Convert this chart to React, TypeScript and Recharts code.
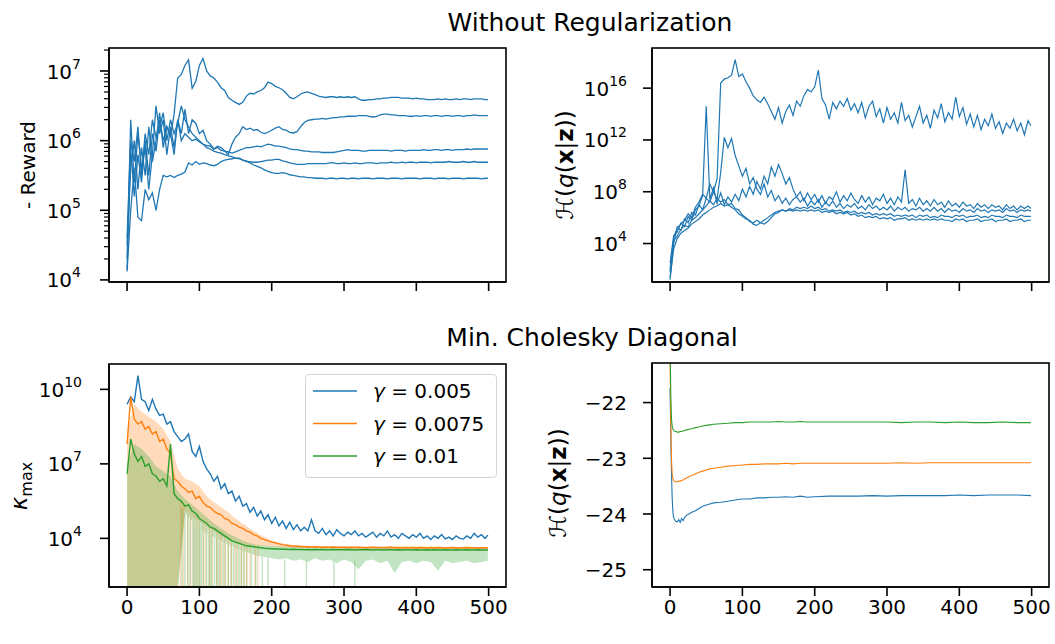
import { Area, ComposedChart, Legend, Line, XAxis, YAxis } from 'recharts'

const FONT = '"DejaVu Sans", sans-serif'
const BLUE = '#1f77b4'
const ORANGE = '#ff7f0e'
const GREEN = '#2ca02c'
const AXIS_LINE = { stroke: '#000', strokeWidth: 1.6 }

// logged iterations: every 5th step, plus the last one
const STEP_X = Array.from({ length: 101 }, (_, i) => (i === 100 ? 499 : i * 5))
// the shaded bands were read at a coarser step
const BAND_X = Array.from({ length: 51 }, (_, i) => (i === 50 ? 499 : i * 10))
const X_TICKS = [0, 100, 200, 300, 400, 500]
const X_DOMAIN: [number, number] = [-25, 524]

// ---- top left: - reward, five runs (log10 of the value) ----
const rewardRun1 = [
  4.15, 5.9, 5.2, 5.8, 5.4, 6.0, 5.5, 6.1, 5.85, 6.3,
  6.0, 6.2, 6.05, 6.38, 6.9, 6.95, 7.08, 7.16, 6.75, 6.85,
  7.08, 7.18, 7.0, 6.93, 6.9, 6.84, 6.76, 6.72, 6.62, 6.58,
  6.55, 6.52, 6.55, 6.64, 6.68, 6.67, 6.7, 6.72, 6.76, 6.84,
  6.82, 6.78, 6.76, 6.73, 6.68, 6.62, 6.6, 6.63, 6.67, 6.69,
  6.7, 6.68, 6.66, 6.64, 6.63, 6.62, 6.63, 6.63, 6.62, 6.63,
  6.62, 6.63, 6.62, 6.63, 6.6, 6.58, 6.58, 6.59, 6.59, 6.6,
  6.6, 6.61, 6.61, 6.62, 6.62, 6.62, 6.61, 6.61, 6.61, 6.6,
  6.61, 6.6, 6.6, 6.59, 6.59, 6.59, 6.6, 6.59, 6.6, 6.59,
  6.59, 6.6, 6.59, 6.6, 6.6, 6.59, 6.6, 6.6, 6.6, 6.59,
  6.59,
]
const rewardRun2 = [
  4.3, 6.3, 5.4, 6.1, 5.6, 5.9, 5.3, 5.8, 6.5, 6.1,
  6.3, 5.8, 6.2, 5.9, 6.3, 6.1, 6.45, 6.1, 6.3, 6.25,
  6.1, 6.15, 6.0, 5.95, 5.88, 5.92, 5.9, 5.85, 5.8, 5.95,
  6.05, 6.1, 6.2, 6.16, 6.18, 6.15, 6.16, 6.12, 6.1, 6.12,
  6.15, 6.18, 6.2, 6.16, 6.15, 6.12, 6.11, 6.13, 6.2, 6.26,
  6.29, 6.3, 6.31, 6.31, 6.32, 6.31, 6.32, 6.33, 6.33, 6.34,
  6.34, 6.35, 6.35, 6.35, 6.36, 6.36, 6.36, 6.35, 6.34, 6.35,
  6.37, 6.38, 6.38, 6.37, 6.37, 6.36, 6.36, 6.36, 6.35, 6.35,
  6.36, 6.35, 6.36, 6.36, 6.35, 6.36, 6.36, 6.35, 6.36, 6.36,
  6.35, 6.36, 6.36, 6.35, 6.36, 6.36, 6.37, 6.36, 6.36, 6.36,
  6.36,
]
const rewardRun3 = [
  4.5, 5.6, 6.0, 5.3, 5.9, 5.5, 6.2, 5.7, 6.0, 6.4,
  5.9, 6.2, 6.1, 5.8, 6.3, 6.0, 6.1, 6.05, 6.0, 6.02,
  5.98, 5.95, 5.93, 5.92, 5.88, 5.9, 5.86, 5.85, 5.84, 5.82,
  5.84, 5.86, 5.88, 5.9, 5.9, 5.91, 5.92, 5.91, 5.93, 5.95,
  5.94, 5.92, 5.92, 5.91, 5.9, 5.88, 5.87, 5.87, 5.86, 5.85,
  5.85, 5.84, 5.84, 5.84, 5.83, 5.83, 5.83, 5.83, 5.84, 5.85,
  5.86, 5.87, 5.86, 5.86, 5.86, 5.85, 5.85, 5.86, 5.86, 5.86,
  5.86, 5.86, 5.86, 5.85, 5.86, 5.86, 5.86, 5.85, 5.86, 5.86,
  5.86, 5.86, 5.87, 5.86, 5.86, 5.87, 5.87, 5.86, 5.87, 5.87,
  5.86, 5.87, 5.87, 5.87, 5.88, 5.87, 5.88, 5.88, 5.88, 5.88,
  5.88,
]
const rewardRun4 = [
  4.12, 5.0, 5.6, 4.9, 4.85, 5.3, 5.15, 5.25, 5.0, 5.3,
  5.5, 5.48, 5.5, 5.47, 5.5, 5.52, 5.55, 5.68, 5.65, 5.7,
  5.66, 5.68, 5.67, 5.65, 5.64, 5.66, 5.7, 5.72, 5.73, 5.74,
  5.75, 5.75, 5.72, 5.7, 5.7, 5.69, 5.69, 5.7, 5.71, 5.72,
  5.72, 5.73, 5.73, 5.71, 5.7, 5.68, 5.67, 5.66, 5.66, 5.66,
  5.67, 5.67, 5.67, 5.67, 5.67, 5.67, 5.68, 5.68, 5.67, 5.67,
  5.68, 5.67, 5.67, 5.68, 5.67, 5.67, 5.68, 5.68, 5.68, 5.67,
  5.68, 5.68, 5.68, 5.69, 5.68, 5.68, 5.69, 5.68, 5.69, 5.69,
  5.68, 5.69, 5.69, 5.69, 5.68, 5.69, 5.69, 5.69, 5.69, 5.7,
  5.69, 5.69, 5.69, 5.7, 5.69, 5.69, 5.7, 5.69, 5.69, 5.69,
  5.69,
]
const rewardRun5 = [
  4.6, 6.0, 5.7, 6.2, 5.5, 6.1, 5.8, 6.3, 6.05, 6.2,
  6.4, 6.0, 6.3, 6.1, 6.25, 6.5, 6.3, 6.2, 6.1, 6.05,
  6.0, 5.95, 5.9, 5.88, 5.85, 5.83, 5.82, 5.8, 5.78, 5.77,
  5.75, 5.74, 5.72, 5.71, 5.68, 5.65, 5.63, 5.61, 5.58, 5.56,
  5.54, 5.53, 5.53, 5.54, 5.53, 5.51, 5.5, 5.49, 5.48, 5.48,
  5.47, 5.47, 5.46, 5.46, 5.46, 5.45, 5.46, 5.46, 5.45, 5.46,
  5.46, 5.45, 5.46, 5.46, 5.45, 5.46, 5.46, 5.46, 5.45, 5.46,
  5.46, 5.46, 5.45, 5.46, 5.46, 5.46, 5.45, 5.46, 5.46, 5.46,
  5.46, 5.45, 5.46, 5.46, 5.46, 5.45, 5.46, 5.46, 5.46, 5.45,
  5.46, 5.46, 5.46, 5.45, 5.46, 5.46, 5.46, 5.46, 5.45, 5.46,
  5.46,
]

// ---- top right: entropy without regularization (log10) ----
const entropyRun1 = [
  2.0, 4.5, 5.2, 5.5, 5.8, 6.3, 6.0, 6.8, 7.2, 7.8,
  7.5, 8.6, 8.0, 9.0, 16.4, 16.7, 16.8, 17.0, 18.2, 16.9,
  17.1, 16.5, 16.0, 15.4, 15.1, 14.9, 15.3, 14.8, 14.2, 13.6,
  14.5, 13.3, 14.2, 14.7, 13.9, 15.0, 14.6, 15.4, 15.9, 15.7,
  16.1, 17.4, 15.2, 14.7, 13.6, 14.9, 14.4, 15.0, 14.6, 15.2,
  14.3, 14.8, 14.1, 14.9, 13.7, 14.6, 15.0, 13.8, 14.4, 13.3,
  14.5, 13.6, 14.1, 13.3, 14.9, 13.5, 13.9, 13.0, 13.8, 14.6,
  13.3, 13.9, 12.9, 14.3, 13.7, 14.8, 13.4, 14.1, 13.6, 15.3,
  13.8, 14.5, 13.2, 14.0, 13.0, 13.9, 12.8, 13.6, 13.1, 14.0,
  12.9, 13.4, 12.5, 13.3, 12.9, 13.6, 12.7, 13.3, 12.4, 13.5,
  13.1,
]
const entropyRun2 = [
  1.2, 4.0, 5.3, 5.0, 5.9, 5.6, 6.4, 6.2, 7.0, 6.6,
  7.5, 7.2, 8.0, 7.4, 9.5, 12.2, 11.4, 12.1, 10.8, 10.0,
  9.2, 9.8, 8.6, 9.1, 8.2, 7.8, 8.6, 7.6, 8.1, 7.3,
  7.7, 7.1, 7.5, 7.0, 7.4, 7.6, 8.0, 7.3, 7.9, 7.4,
  7.8, 7.2, 7.7, 7.1, 7.6, 7.4, 8.0, 7.2, 7.7, 7.3,
  7.9, 7.4, 7.1, 7.7, 7.2, 7.6, 7.0, 7.5, 7.3, 7.8,
  7.1, 7.5, 7.0, 7.6, 7.2, 9.7, 7.1, 7.4, 6.9, 7.5,
  7.0, 7.3, 6.9, 7.4, 7.0, 7.2, 6.8, 7.3, 6.9, 7.1,
  6.8, 7.2, 6.9, 7.0, 6.7, 7.1, 6.8, 7.0, 6.7, 7.0,
  6.8, 6.9, 6.6, 7.0, 6.7, 6.9, 6.6, 6.9, 6.7, 6.9,
  6.7,
]
const entropyRun3 = [
  2.5, 4.6, 4.9, 5.6, 5.3, 6.1, 5.8, 6.6, 6.9, 7.7,
  14.6, 7.4, 8.3, 7.1, 7.9, 7.0, 7.6, 7.2, 7.8, 7.3,
  8.2, 7.6, 8.4, 7.8, 8.8, 8.2, 9.2, 8.6, 9.9, 9.2,
  10.1, 9.4, 8.6, 9.1, 8.2, 7.6, 7.2, 7.5, 6.9, 7.3,
  7.0, 7.4, 6.8, 7.2, 6.9, 7.3, 6.8, 7.1, 6.7, 7.0,
  6.8, 7.1, 6.7, 6.9, 6.6, 7.0, 6.7, 6.9, 6.6, 6.8,
  6.6, 6.9, 6.5, 6.8, 6.6, 6.8, 6.5, 6.7, 6.6, 6.8,
  6.5, 6.7, 6.5, 6.8, 6.5, 6.7, 6.4, 6.7, 6.5, 6.6,
  6.4, 6.7, 6.5, 6.6, 6.4, 6.7, 6.5, 6.6, 6.4, 6.6,
  6.5, 6.6, 6.4, 6.7, 6.5, 6.6, 6.4, 6.6, 6.5, 6.6,
  6.5,
]
const entropyRun4 = [
  1.8, 4.2, 4.6, 5.1, 5.4, 5.3, 5.8, 6.0, 6.3, 6.6,
  6.9, 7.3, 7.0, 7.5, 7.2, 7.4, 7.0, 7.1, 6.7, 6.6,
  6.2, 6.0, 5.7, 5.6, 5.8, 5.6, 5.5, 5.7, 6.0, 6.3,
  6.4, 6.6, 6.5, 6.7, 6.6, 6.8, 6.7, 6.8, 6.7, 6.9,
  6.7, 6.8, 6.6, 6.7, 6.5, 6.6, 6.5, 6.6, 6.4, 6.5,
  6.4, 6.5, 6.3, 6.4, 6.3, 6.4, 6.2, 6.3, 6.2, 6.3,
  6.2, 6.3, 6.1, 6.2, 6.1, 6.2, 6.1, 6.2, 6.0, 6.2,
  6.1, 6.2, 6.0, 6.1, 6.0, 6.2, 6.1, 6.1, 6.0, 6.2,
  6.1, 6.2, 6.0, 6.1, 6.1, 6.2, 6.0, 6.1, 6.0, 6.2,
  6.1, 6.1, 6.0, 6.2, 6.1, 6.1, 6.0, 6.2, 6.1, 6.1,
  6.1,
]
const entropyRun5 = [
  1.4, 3.6, 4.4, 4.8, 5.0, 5.2, 5.5, 5.7, 5.9, 6.2,
  6.4, 6.6, 6.8, 6.9, 7.1, 6.9, 7.0, 6.8, 6.6, 6.3,
  6.1, 5.9, 5.8, 5.5, 5.4, 5.6, 5.8, 6.0, 6.2, 6.4,
  6.5, 6.6, 6.5, 6.6, 6.5, 6.6, 6.5, 6.6, 6.5, 6.6,
  6.5, 6.6, 6.4, 6.5, 6.4, 6.5, 6.3, 6.4, 6.3, 6.4,
  6.2, 6.3, 6.1, 6.2, 6.0, 6.1, 6.0, 6.1, 5.9, 6.0,
  5.9, 6.0, 5.8, 5.9, 5.9, 6.0, 5.8, 5.9, 5.8, 5.9,
  5.8, 5.9, 5.8, 5.9, 5.8, 5.9, 5.8, 5.8, 5.7, 5.9,
  5.8, 5.9, 5.7, 5.8, 5.8, 5.9, 5.7, 5.8, 5.8, 5.9,
  5.7, 5.8, 5.8, 5.9, 5.7, 5.8, 5.8, 5.9, 5.7, 5.8,
  5.8,
]

// ---- bottom left: kappa_max per gamma (log10) ----
const GAMMAS = ['0.005', '0.0075', '0.01']
const GAMMA_COLORS = [BLUE, ORANGE, GREEN]
const kappaG005 = [
  9.4, 9.7, 9.5, 10.55, 9.6, 9.5, 9.15, 9.6, 9.2, 8.95,
  9.0, 8.6, 8.7, 8.3, 8.1, 7.9, 8.0, 8.2, 7.5, 7.3,
  7.7, 7.1, 6.8, 6.6, 6.3, 6.5, 6.0, 6.2, 5.8, 5.9,
  5.5, 5.7, 5.3, 5.4, 5.05, 5.25, 4.9, 5.1, 4.75, 4.95,
  4.6, 4.85, 4.5, 4.7, 4.4, 4.65, 4.35, 4.55, 4.3, 4.45,
  4.3, 4.75, 4.3, 4.2, 4.4, 4.15, 4.3, 4.1, 4.35, 4.2,
  4.1, 4.25, 4.15, 4.3, 4.1, 4.2, 4.05, 4.15, 4.25, 4.05,
  4.2, 4.1, 4.3, 4.05, 4.15, 4.0, 4.2, 4.1, 4.0, 4.15,
  4.05, 4.2, 4.0, 4.1, 3.95, 4.1, 4.0, 4.15, 3.98, 4.05,
  3.95, 4.1, 4.0, 3.97, 4.1, 4.0, 4.2, 4.05, 4.15, 4.0,
  4.13,
]
const kappaG0075 = [
  7.8, 9.7, 8.8, 8.6, 8.7, 8.4, 8.5, 8.2, 8.3, 7.9,
  8.0, 7.6, 7.4, 6.4, 6.3, 6.1, 6.0, 5.85, 5.9, 5.6,
  5.7, 5.45, 5.3, 5.25, 5.1, 5.0, 4.95, 4.8, 4.75, 4.6,
  4.55, 4.45, 4.4, 4.3, 4.25, 4.15, 4.1, 4.0, 3.95, 3.9,
  3.85, 3.82, 3.78, 3.75, 3.72, 3.7, 3.69, 3.68, 3.67, 3.66,
  3.66, 3.65, 3.66, 3.65, 3.64, 3.65, 3.64, 3.65, 3.64, 3.63,
  3.64, 3.63, 3.64, 3.63, 3.64, 3.63, 3.62, 3.63, 3.64, 3.63,
  3.63, 3.62, 3.63, 3.64, 3.62, 3.63, 3.62, 3.63, 3.62, 3.63,
  3.62, 3.63, 3.62, 3.61, 3.63, 3.62, 3.63, 3.62, 3.61, 3.62,
  3.63, 3.62, 3.61, 3.62, 3.63, 3.62, 3.62, 3.61, 3.62, 3.62,
  3.62,
]
const kappaG01 = [
  6.6, 8.0, 7.4, 7.1, 7.3, 6.9, 7.0, 6.6, 6.5, 6.3,
  6.4, 6.1, 7.8, 5.8, 5.6, 5.5, 5.3, 5.35, 5.1, 5.0,
  4.8, 4.7, 4.6, 4.45, 4.4, 4.3, 4.2, 4.1, 4.0, 3.9,
  3.85, 3.8, 3.75, 3.7, 3.68, 3.66, 3.64, 3.62, 3.6, 3.59,
  3.58, 3.57, 3.57, 3.56, 3.56, 3.55, 3.56, 3.55, 3.55, 3.54,
  3.55, 3.54, 3.55, 3.54, 3.55, 3.54, 3.54, 3.55, 3.54, 3.54,
  3.54, 3.55, 3.54, 3.53, 3.54, 3.54, 3.55, 3.54, 3.53, 3.54,
  3.54, 3.53, 3.54, 3.54, 3.53, 3.54, 3.53, 3.54, 3.54, 3.53,
  3.54, 3.53, 3.53, 3.54, 3.53, 3.54, 3.53, 3.53, 3.54, 3.53,
  3.53, 3.54, 3.53, 3.53, 3.54, 3.53, 3.53, 3.54, 3.53, 3.53,
  3.53,
]
// shaded spread (log10); 1.9 sits just under the bottom of the axis
const orangeBandHi = [
  8.3, 9.4, 9.1, 8.9, 8.7, 8.4, 7.9, 6.8, 6.4, 6.3,
  6.1, 5.7, 5.45, 5.25, 5.05, 4.8, 4.6, 4.4, 4.22, 4.05,
  3.92, 3.83, 3.77, 3.73, 3.71, 3.7, 3.69, 3.69, 3.68, 3.68,
  3.68, 3.68, 3.67, 3.67, 3.67, 3.67, 3.67, 3.66, 3.66, 3.66,
  3.66, 3.66, 3.66, 3.65, 3.66, 3.65, 3.65, 3.66, 3.65, 3.65,
  3.65,
]
const orangeBandLo = [
  1.9, 1.9, 1.9, 1.9, 1.9, 1.9, 1.9, 1.9, 5.1, 4.9,
  4.7, 4.5, 4.3, 4.1, 3.95, 3.8, 3.75, 3.72, 3.7, 3.68,
  3.65, 3.63, 3.62, 3.61, 3.6, 3.6, 3.6, 3.59, 3.59, 3.59,
  3.59, 3.59, 3.58, 3.59, 3.58, 3.58, 3.58, 3.58, 3.58, 3.58,
  3.58, 3.57, 3.58, 3.57, 3.58, 3.57, 3.57, 3.58, 3.57, 3.57,
  3.57,
]
const greenBandHi = [
  7.0, 7.8, 7.6, 7.3, 6.9, 6.7, 6.5, 5.9, 5.6, 5.35,
  5.1, 4.85, 4.6, 4.4, 4.2, 4.05, 3.9, 3.8, 3.74, 3.7,
  3.68, 3.67, 3.66, 3.66, 3.65, 3.65, 3.65, 3.64, 3.64, 3.64,
  3.64, 3.64, 3.64, 3.63, 3.64, 3.64, 3.63, 3.64, 3.63, 3.63,
  3.64, 3.63, 3.63, 3.64, 3.63, 3.63, 3.63, 3.63, 3.64, 3.63,
  3.63,
]
const greenBandLo = [
  1.9, 1.9, 1.9, 1.9, 1.9, 1.9, 1.9, 1.9, 5.0, 4.7,
  4.4, 4.2, 4.05, 3.9, 3.75, 3.6, 3.5, 3.4, 3.3, 3.25,
  3.2, 3.15, 3.2, 3.1, 3.15, 3.05, 3.2, 3.1, 3.15, 3.0,
  3.15, 3.05, 2.75, 3.1, 3.15, 3.0, 3.1, 2.6, 3.05, 3.1,
  3.0, 3.1, 3.05, 2.7, 3.1, 3.0, 3.05, 3.1, 3.0, 3.05,
  3.1,
]
// single iterations where the spread drops off the bottom of the axis
const orangeSpikeX = [74, 78, 84, 88, 92, 96, 100, 105, 109, 114, 118, 124, 128, 131, 135, 140, 144, 149, 153, 158, 162, 166, 170, 177, 181]
const orangeSpikeTop = [
  5.5, 5.3, 5.0, 4.95, 4.9, 4.82, 4.7, 4.6, 4.52, 4.42, 4.35, 4.22, 4.15, 4.12,
  4.05, 3.95, 3.88, 3.82, 3.79, 3.76, 3.74, 3.73, 3.72, 3.7, 3.69,
]
const greenSpikeX = [
  76, 80, 84, 87, 91, 93, 95, 97, 99, 101, 103, 106, 110, 113, 115, 117, 121, 124, 126, 129, 133,
  136, 140, 144, 147, 151, 155, 158, 161, 165, 172, 178, 187, 195, 218, 248, 286, 315,
]
const greenSpikeTop = [
  5.2, 5.0, 4.9, 4.8, 4.67, 4.6, 4.55, 4.5, 4.43, 4.38, 4.34, 4.28, 4.2, 4.15, 4.13, 4.1, 4.04, 3.99, 3.96, 3.92, 3.86,
  3.81, 3.75, 3.69, 3.65, 3.59, 3.55, 3.52, 3.49, 3.45, 3.38, 3.32, 3.26, 3.22, 3.17, 3.1, 3.05, 3.1,
]

// ---- bottom right: entropy with the Cholesky floor ----
const cholX = [
  0, 1, 2, 3, 4, 5, 6, 7, 8, 10, 12, 14, 16, 18, 20, 23, 26, 30, 35, 40, 45, 50, 55, 60,
  70, 80, 90, 100, 110, 120, 130, 140, 150, 160, 170, 180, 190, 200,
  220, 240, 260, 280, 300, 320, 340, 360, 380, 400, 420, 440, 460, 480, 499,
]
const cholG005 = [
  -21.74, -22.6, -23.3, -23.75, -23.98, -24.06, -24.1, -24.12, -24.13,
  -24.14, -24.1, -24.15, -24.08, -24.12, -24.06,
  -24.02, -24.0, -23.97, -23.94, -23.9, -23.86, -23.84, -23.82, -23.8,
  -23.79, -23.77, -23.75, -23.73, -23.73, -23.71, -23.71, -23.7, -23.7, -23.69, -23.7, -23.68, -23.7, -23.69,
  -23.68, -23.68, -23.68, -23.67, -23.68, -23.67, -23.67, -23.67, -23.67, -23.66, -23.67, -23.66, -23.66, -23.66,
  -23.67,
]
const cholG0075 = [
  -21.2, -22.4, -23.05, -23.3, -23.37, -23.4, -23.41, -23.42, -23.42,
  -23.42, -23.41, -23.41, -23.4, -23.39, -23.37,
  -23.35, -23.33, -23.31, -23.28, -23.25, -23.23, -23.21, -23.19, -23.18,
  -23.16, -23.14, -23.13, -23.12, -23.11, -23.11, -23.1, -23.1, -23.1, -23.09, -23.1, -23.09, -23.09, -23.09,
  -23.09, -23.09, -23.09, -23.09, -23.09, -23.08, -23.09, -23.08, -23.08, -23.08, -23.08, -23.08, -23.08, -23.08,
  -23.08,
]
const cholG01 = [
  -20.8, -21.9, -22.3, -22.43, -22.48, -22.5, -22.51, -22.52, -22.52,
  -22.53, -22.53, -22.52, -22.52, -22.51, -22.5,
  -22.49, -22.48, -22.47, -22.45, -22.44, -22.42, -22.41, -22.4, -22.39,
  -22.38, -22.37, -22.36, -22.36, -22.35, -22.35, -22.35, -22.35, -22.34, -22.35, -22.35, -22.34, -22.35, -22.35,
  -22.35, -22.35, -22.35, -22.35, -22.35, -22.36, -22.35, -22.35, -22.36, -22.35, -22.36, -22.36, -22.35, -22.36,
  -22.36,
]

const REWARD_TICKS = [4, 5, 6]
  .flatMap((d) => [1, 2, 3, 4, 5, 6, 7, 8, 9].map((m) => m * 10 ** d))
  .concat([1e7, 2e7])
const ENTROPY_TICKS = [1e4, 1e8, 1e12, 1e16]
const KAPPA_TICKS = [1e4, 1e7, 1e10]
const CHOL_TICKS = [-25, -24, -23, -22]

const REWARD_RUNS = [rewardRun1, rewardRun2, rewardRun3, rewardRun4, rewardRun5]
const ENTROPY_RUNS = [entropyRun1, entropyRun2, entropyRun3, entropyRun4, entropyRun5]
const KAPPA_RUNS = [kappaG005, kappaG0075, kappaG01]
const CHOL_RUNS = [cholG005, cholG0075, cholG01]

// plot-area boxes (page px) used for the matplotlib style frame
const PANELS = [
  { left: 109, top: 48, width: 397, height: 234 },
  { left: 652, top: 48, width: 397, height: 234 },
  { left: 109, top: 364, width: 397, height: 223 },
  { left: 652, top: 363, width: 397, height: 224 },
]

const logRows = (runs: number[][]) =>
  STEP_X.map((x, i) => {
    const row: Record<string, number> = { x }
    runs.forEach((run, k) => {
      row[`run${k}`] = 10 ** run[i]
    })
    return row
  })

const rewardRows = logRows(REWARD_RUNS)
const entropyRows = logRows(ENTROPY_RUNS)
const kappaRows = logRows(KAPPA_RUNS)
const cholRows = cholX.map((x, i) => ({ x, run0: cholG005[i], run1: cholG0075[i], run2: cholG01[i] }))

const bandRows = (lo: number[], hi: number[]) =>
  BAND_X.map((x, i) => ({ x, band: [10 ** lo[i], 10 ** hi[i]] }))
const spikeRows = (xs: number[], tops: number[]) =>
  xs.map((s, i) => [
    { x: s - 1, band: [1, 10 ** tops[i]] },
    { x: s + 1, band: [1, 10 ** tops[i]] },
  ])

const orangeBand = bandRows(orangeBandLo, orangeBandHi)
const greenBand = bandRows(greenBandLo, greenBandHi)
const orangeSpikes = spikeRows(orangeSpikeX, orangeSpikeTop)
const greenSpikes = spikeRows(greenSpikeX, greenSpikeTop)

function XTick(props: any) {
  const { x, y, payload, withLabel } = props
  return (
    <g>
      <line x1={x} x2={x} y1={y} y2={y + 9} stroke="#000" strokeWidth={1.6} />
      {withLabel && (
        <text x={x} y={y + 27} textAnchor="middle" fontSize={20} fontFamily={FONT} fill="#000">
          {payload.value}
        </text>
      )}
    </g>
  )
}

function LogTick(props: any) {
  const { x, y, payload, gap } = props
  const exp = Math.log10(payload.value)
  const major = Math.abs(exp - Math.round(exp)) < 1e-6
  return (
    <g>
      <line x1={x - (major ? 9 : 5)} x2={x} y1={y} y2={y} stroke="#000" strokeWidth={major ? 1.6 : 1.2} />
      {major && (
        <text x={x - gap} y={y + 7.5} textAnchor="end" fontSize={20} fontFamily={FONT} fill="#000">
          10
          <tspan dy={-10} fontSize={14}>
            {Math.round(exp)}
          </tspan>
        </text>
      )}
    </g>
  )
}

function LinTick(props: any) {
  const { x, y, payload } = props
  return (
    <g>
      <line x1={x - 9} x2={x} y1={y} y2={y} stroke="#000" strokeWidth={1.6} />
      <text x={x - 25} y={y + 7.5} textAnchor="end" fontSize={20} fontFamily={FONT} fill="#000">
        {String(payload.value).replace('-', '\u2212')}
      </text>
    </g>
  )
}

function GammaLegend({ payload }: { payload?: any[] }) {
  const items = (payload ?? []).filter((p) => p.type !== 'none')
  return (
    <div
      style={{
        width: 192,
        height: 104,
        boxSizing: 'border-box',
        border: '1px solid #d4d4d4',
        borderRadius: 4,
        background: 'rgba(255,255,255,0.8)',
      }}
    >
      <svg width={190} height={102} style={{ display: 'block' }}>
        {items.map((item, i) => {
          const cy = 16 + i * 32.5
          return (
            <g key={item.value}>
              <line x1={7} x2={51} y1={cy} y2={cy} stroke={item.color} strokeWidth={1.4} />
              <text x={67} y={cy + 7} fontSize={20} fontFamily={FONT} fill="#000">
                <tspan fontStyle="italic">γ</tspan> = {GAMMAS[i]}
              </text>
            </g>
          )
        })}
      </svg>
    </div>
  )
}

function EntropyLabel({ cx, cy }: { cx: number; cy: number }) {
  return (
    <text transform={`translate(${cx},${cy}) rotate(-90)`} y={7} textAnchor="middle" fontSize={23} fontFamily={FONT} fill="#000">
      ℋ(<tspan fontStyle="italic">q</tspan>(<tspan fontWeight="bold">x</tspan>|<tspan fontWeight="bold">z</tspan>))
    </text>
  )
}

export default function App() {
  const bottomAxis = (withLabels: boolean) => (
    <XAxis
      dataKey="x"
      type="number"
      domain={X_DOMAIN}
      ticks={X_TICKS}
      interval={0}
      height={withLabels ? 40 : 30}
      tickSize={0}
      tickMargin={0}
      tickLine={false}
      axisLine={AXIS_LINE}
      allowDataOverflow
      tick={(p: any) => <XTick {...p} withLabel={withLabels} />}
    />
  )

  return (
    <div style={{ position: 'absolute', left: 0, top: 0, width: 1055, height: 644, background: '#fff', fontFamily: FONT }}>
      {/* top left: reward */}
      <div style={{ position: 'absolute', left: 9, top: 46 }}>
        <ComposedChart width={501} height={266} data={rewardRows} margin={{ top: 2, right: 4, bottom: 0, left: 0 }}>
          {bottomAxis(false)}
          <YAxis
            type="number"
            scale="log"
            domain={[9330, 2.14e7]}
            ticks={REWARD_TICKS}
            interval={0}
            width={100}
            tickSize={0}
            tickMargin={0}
            tickLine={false}
            axisLine={AXIS_LINE}
            allowDataOverflow
            tick={(p: any) => <LogTick {...p} gap={28} />}
          />
          {REWARD_RUNS.map((_, k) => (
            <Line key={k} dataKey={`run${k}`} type="linear" stroke={BLUE} strokeWidth={1.3} dot={false} isAnimationActive={false} />
          ))}
        </ComposedChart>
      </div>

      {/* top right: entropy without regularization */}
      <div style={{ position: 'absolute', left: 552, top: 46 }}>
        <ComposedChart width={501} height={266} data={entropyRows} margin={{ top: 2, right: 4, bottom: 0, left: 0 }}>
          {bottomAxis(false)}
          <YAxis
            type="number"
            scale="log"
            domain={[10.7, 1.26e19]}
            ticks={ENTROPY_TICKS}
            interval={0}
            width={100}
            tickSize={0}
            tickMargin={0}
            tickLine={false}
            axisLine={AXIS_LINE}
            allowDataOverflow
            tick={(p: any) => <LogTick {...p} gap={25} />}
          />
          {ENTROPY_RUNS.map((_, k) => (
            <Line key={k} dataKey={`run${k}`} type="linear" stroke={BLUE} strokeWidth={1.2} dot={false} isAnimationActive={false} />
          ))}
        </ComposedChart>
      </div>

      {/* bottom left: kappa max */}
      <div style={{ position: 'absolute', left: 9, top: 362 }}>
        <ComposedChart width={501} height={265} margin={{ top: 2, right: 4, bottom: 0, left: 0 }}>
          {bottomAxis(true)}
          <YAxis
            type="number"
            scale="log"
            domain={[110, 1.05e11]}
            ticks={KAPPA_TICKS}
            interval={0}
            width={100}
            tickSize={0}
            tickMargin={0}
            tickLine={false}
            axisLine={AXIS_LINE}
            allowDataOverflow
            tick={(p: any) => <LogTick {...p} gap={27} />}
          />
          <Area data={orangeBand} dataKey="band" type="linear" stroke="none" fill={ORANGE} fillOpacity={0.28} legendType="none" isAnimationActive={false} activeDot={false} />
          <Area data={greenBand} dataKey="band" type="linear" stroke="none" fill={GREEN} fillOpacity={0.28} legendType="none" isAnimationActive={false} activeDot={false} />
          {orangeSpikes.map((d, i) => (
            <Area key={`os${i}`} data={d} dataKey="band" type="linear" stroke="none" fill={ORANGE} fillOpacity={0.28} legendType="none" isAnimationActive={false} activeDot={false} />
          ))}
          {greenSpikes.map((d, i) => (
            <Area key={`gs${i}`} data={d} dataKey="band" type="linear" stroke="none" fill={GREEN} fillOpacity={0.28} legendType="none" isAnimationActive={false} activeDot={false} />
          ))}
          {KAPPA_RUNS.map((_, k) => (
            <Line
              key={k}
              data={kappaRows}
              dataKey={`run${k}`}
              name={`γ = ${GAMMAS[k]}`}
              type="linear"
              stroke={GAMMA_COLORS[k]}
              strokeWidth={1.4}
              dot={false}
              isAnimationActive={false}
            />
          ))}
          <Legend
            layout="vertical"
            align="center"
            verticalAlign="middle"
            wrapperStyle={{ left: 296, top: 12, width: 192, height: 104 }}
            content={(props: any) => <GammaLegend payload={props.payload} />}
          />
        </ComposedChart>
      </div>

      {/* bottom right: entropy with Cholesky floor */}
      <div style={{ position: 'absolute', left: 552, top: 361 }}>
        <ComposedChart width={501} height={266} data={cholRows} margin={{ top: 2, right: 4, bottom: 0, left: 0 }}>
          {bottomAxis(true)}
          <YAxis
            type="number"
            domain={[-25.31, -21.29]}
            ticks={CHOL_TICKS}
            interval={0}
            width={100}
            tickSize={0}
            tickMargin={0}
            tickLine={false}
            axisLine={AXIS_LINE}
            allowDataOverflow
            tick={(p: any) => <LinTick {...p} />}
          />
          {CHOL_RUNS.map((_, k) => (
            <Line key={k} dataKey={`run${k}`} type="linear" stroke={GAMMA_COLORS[k]} strokeWidth={1.1} dot={false} isAnimationActive={false} />
          ))}
        </ComposedChart>
      </div>

      {/* frames, titles and axis labels */}
      <svg width={1055} height={644} style={{ position: 'absolute', left: 0, top: 0, pointerEvents: 'none' }}>
        {PANELS.map((p, i) => (
          <rect key={i} x={p.left} y={p.top} width={p.width} height={p.height} fill="none" stroke="#000" strokeWidth={1.6} />
        ))}
        <text x={590} y={31} textAnchor="middle" fontSize={25} fontFamily={FONT} fill="#000">
          Without Regularization
        </text>
        <text x={592} y={346} textAnchor="middle" fontSize={25} fontFamily={FONT} fill="#000">
          Min. Cholesky Diagonal
        </text>
        <text transform="translate(28,165) rotate(-90)" y={7} textAnchor="middle" fontSize={20} fontFamily={FONT} fill="#000">
          - Reward
        </text>
        <text transform="translate(21,486) rotate(-90)" y={6} textAnchor="middle" fontSize={23} fontFamily={FONT} fill="#000">
          <tspan fontStyle="italic">κ</tspan>
          <tspan dy={5} fontSize={16}>
            max
          </tspan>
        </text>
        <EntropyLabel cx={566} cy={165} />
        <EntropyLabel cx={559} cy={483} />
      </svg>
    </div>
  )
}
